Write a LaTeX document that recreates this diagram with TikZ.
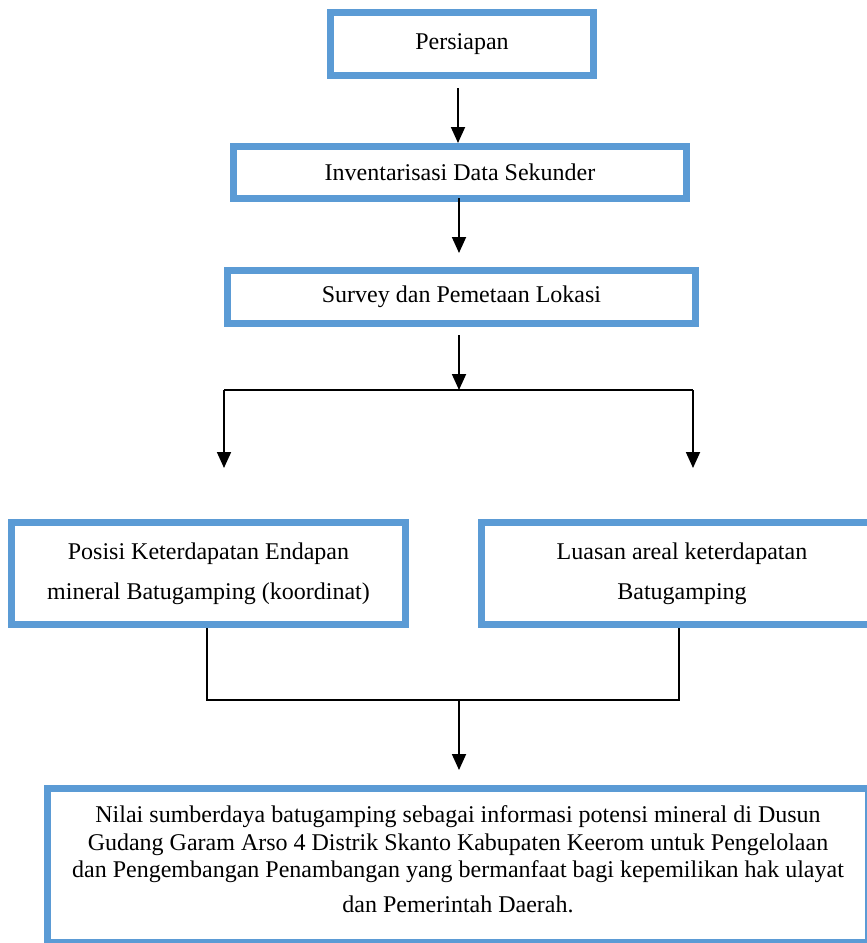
\documentclass[tikz,border=0pt]{standalone}
\usepackage{fontspec}
\setmainfont{Liberation Serif}
\usetikzlibrary{arrows.meta}
\definecolor{boxblue}{RGB}{91,155,213}
\tikzset{
  stepbox/.style={draw=boxblue, line width=7pt, fill=white, align=center, inner sep=0pt,
    font=\fontsize{24}{27.5}\selectfont},
  arr/.style={line width=1.8pt, -{Triangle[width=14pt,length=16pt]}},
  link/.style={line width=1.8pt}
}
\begin{document}
\begin{tikzpicture}[x=1pt,y=-1pt]
\useasboundingbox (0,0) rectangle (867,943);
\clip (0,0) rectangle (867,943);
\node[stepbox, minimum width=263pt, minimum height=63pt] (persiapan) at (462,44) {Persiapan};
\node[stepbox, minimum width=453pt, minimum height=52pt] (inventaris) at (460,172.5) {Inventarisasi Data Sekunder};
\node[stepbox, minimum width=468pt, minimum height=53pt] (survey) at (461.5,297) {Survey dan Pemetaan Lokasi};
\node[stepbox, minimum width=394pt, minimum height=102pt, font=\fontsize{24}{40}\selectfont] (posisi) at (208.5,573.5) {Posisi Keterdapatan Endapan\\mineral Batugamping (koordinat)};
\node[stepbox, minimum width=401pt, minimum height=102pt, font=\fontsize{24}{40}\selectfont] (luasan) at (682,573.5) {Luasan areal keterdapatan\\Batugamping};
\node[stepbox, minimum width=821pt, minimum height=154pt] (nilai) at (458,865.5) {Nilai sumberdaya batugamping sebagai informasi potensi mineral di Dusun\\Gudang Garam Arso 4 Distrik Skanto Kabupaten Keerom untuk Pengelolaan\\dan Pengembangan Penambangan yang bermanfaat bagi kepemilikan hak ulayat\\[7.5pt]dan Pemerintah Daerah.\\[-15pt]\mbox{}};
\coordinate (start1) at (458,88);
\coordinate (start2) at (459,198);
\coordinate (start3) at (459,335);
\coordinate (split) at (459,390);
\coordinate (splitL) at (224,390);
\coordinate (splitR) at (693,390);
\coordinate (tipL) at (224,468);
\coordinate (tipR) at (693,468);
\coordinate (joinL) at (207,700);
\coordinate (joinR) at (679,700);
\coordinate (join) at (459,700);
\coordinate (tipB) at (459,770);
\draw[arr] (start1) -- (start1 |- inventaris.north);
\draw[arr] (start2) -- (459,253);
\draw[arr] (start3) -- (split);
\draw[link] (splitL) -- (splitR);
\draw[arr] (splitL) -- (tipL);
\draw[arr] (splitR) -- (tipR);
\draw[link] (posisi.south -| joinL) -- (joinL) -- (joinR) -- (luasan.south -| joinR);
\draw[arr] (join) -- (tipB);
\end{tikzpicture}
\end{document}
